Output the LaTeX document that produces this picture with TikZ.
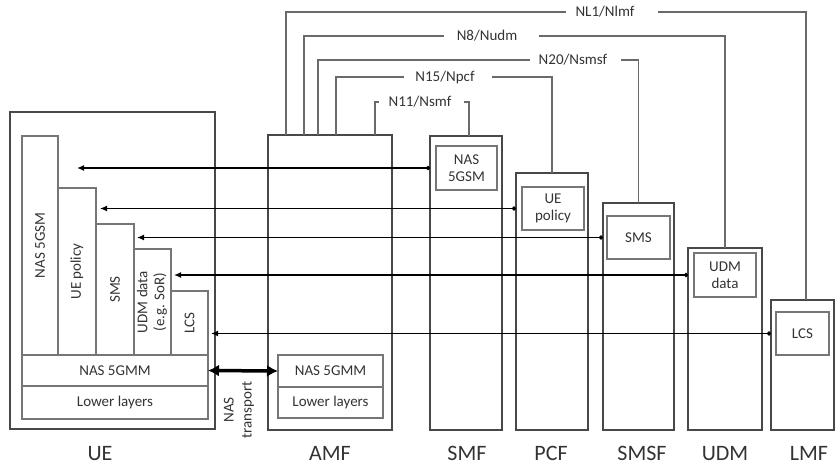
\documentclass[tikz,border=0pt]{standalone}
\usepackage{fontspec}
\setmainfont{Carlito}
\usetikzlibrary{arrows.meta}
\definecolor{boxc}{HTML}{484848}
\definecolor{inc}{HTML}{767676}
\definecolor{ifc}{HTML}{6A6A6A}
\definecolor{txt}{HTML}{333333}
\begin{document}
\begin{tikzpicture}[x=1pt,y=-1pt,
  nf/.style={draw=boxc,line width=1.7pt,inner sep=0pt,outer sep=0pt,anchor=north west},
  col/.style={draw=inc,line width=1.2pt,inner sep=0pt,outer sep=0pt,anchor=north west,
              text=txt,font=\fontsize{15}{17}\selectfont,align=center},
  ifl/.style={draw=ifc,line width=1.3pt},
  iflab/.style={text=txt,font=\fontsize{15}{18}\selectfont,inner sep=0pt},
  sig/.style={draw=black,line width=1.5pt,{Latex[length=7pt,width=6pt]}-{Circle[length=4pt]}},
  ntr/.style={draw=black,line width=3.5pt,{Latex[length=11pt,width=12pt]}-{Latex[length=11pt,width=12pt]}},
  nflab/.style={text=txt,font=\fontsize{22}{26}\selectfont,anchor=base,inner sep=0pt}
]
\useasboundingbox (0,0) rectangle (835,467);

% UE
\node[nf,minimum width=205pt,minimum height=317pt] (ue) at (10,112) {};
\node[col,minimum width=36pt,minimum height=219pt] (gsm) at (22,136) {\rotatebox{90}{NAS 5GSM}};
\node[col,minimum width=38pt,minimum height=167pt] (pol) at (58,188) {\rotatebox{90}{UE policy}};
\node[col,minimum width=38pt,minimum height=131pt] (sms) at (96,224) {\rotatebox{90}{SMS}};
\node[col,minimum width=37pt,minimum height=106pt] (udmc) at (134,249) {\rotatebox{90}{\begin{tabular}{@{}c@{}}UDM data\\(e.g. SoR)\end{tabular}}};
\node[col,minimum width=37pt,minimum height=64pt] (lcs) at (171,291) {\rotatebox{90}{LCS}};
\node[col,minimum width=186pt,minimum height=31pt] (gmm) at (22,355) {NAS 5GMM};
\node[col,minimum width=186pt,minimum height=33pt] (low) at (22,386) {Lower layers};

% AMF
\node[nf,minimum width=124pt,minimum height=295pt] (amf) at (268,135) {};
\node[col,minimum width=105pt,minimum height=32pt] (agmm) at (278,355) {NAS 5GMM};
\node[col,minimum width=105pt,minimum height=31pt] (alow) at (278,387) {Lower layers};

% SMF
\node[nf,minimum width=72pt,minimum height=294pt] (smf) at (430,136) {};
\node[col,minimum width=61pt,minimum height=44pt] (smfin) at (436,146) {NAS\\5GSM};
% PCF
\node[nf,minimum width=72pt,minimum height=257pt] (pcf) at (516,173) {};
\node[col,minimum width=62pt,minimum height=43pt] (pcfin) at (522,187) {UE\\policy};
% SMSF
\node[nf,minimum width=71pt,minimum height=227pt] (smsf) at (603,203) {};
\node[col,minimum width=63pt,minimum height=43pt] (smsfin) at (607,216) {SMS};
% UDM
\node[nf,minimum width=74pt,minimum height=182pt] (udm) at (688,248) {};
\node[col,minimum width=62pt,minimum height=44pt] (udmin) at (694,253) {UDM\\data};
% LMF
\node[nf,minimum width=63pt,minimum height=130pt] (lmf) at (771,300) {};
\node[col,minimum width=53pt,minimum height=43pt] (lmfin) at (776,312) {LCS};

% interface labels
\node[iflab] (l1) at (605,12) {NL1/Nlmf};
\node[iflab] (l2) at (487,36) {N8/Nudm};
\node[iflab] (l3) at (573,60) {N20/Nsmsf};
\node[iflab] (l4) at (445,77) {N15/Npcf};
\node[iflab] (l5) at (420,102) {N11/Nsmf};

\draw[ifl] ([xshift=18pt]amf.north west) |- ([xshift=-9pt]l1.west);
\draw[ifl] ([xshift=23pt]l1.east) -| ([xshift=35pt]lmf.north west);
\draw[ifl] ([xshift=36pt]amf.north west) |- ([xshift=-13pt]l2.west);
\draw[ifl] ([xshift=22pt]l2.east) -| (udm.north);
\draw[ifl] ([xshift=50pt]amf.north west) |- ([xshift=-9pt]l3.west);
\draw[ifl] ([xshift=14pt]l3.east) -| (smsf.north);
\draw[ifl] ([xshift=68pt]amf.north west) |- ([xshift=-11pt]l4.west);
\draw[ifl] ([xshift=17pt]l4.east) -| (pcf.north);
\draw[ifl] ([xshift=107pt]amf.north west) |- ([xshift=-9pt]l5.west);
\draw[ifl] ([xshift=12pt]l5.east) -| ([xshift=3pt]smf.north);

% signalling arrows
\draw[sig] ([xshift=19pt]gsm.east |- smfin.west) -- (smf.west |- smfin.west);
\draw[sig] ([xshift=4pt]pol.east |- pcfin.west) -- (pcf.west |- pcfin.west);
\draw[sig] ([xshift=3pt]sms.east |- smsfin.west) -- (smsf.west |- smsfin.west);
\draw[sig] ([xshift=3pt]udmc.east |- udmin.west) -- (udm.west |- udmin.west);
\draw[sig] ([xshift=3pt]lcs.east |- lmfin.west) -- (lmf.west |- lmfin.west);

% NAS transport
\draw[ntr] (gmm.east) -- (agmm.west);
\node[text=txt,font=\fontsize{15}{18}\selectfont,align=center,rotate=90,inner sep=0pt] (ntl) at (239,410) {NAS\\transport};

% NF labels
\node[nflab] (tue) at (100,460) {UE};
\node[nflab] (tamf) at (330,460) {AMF};
\node[nflab] (tsmf) at (467,460) {SMF};
\node[nflab] (tpcf) at (551,460) {PCF};
\node[nflab] (tsmsf) at (642,460) {SMSF};
\node[nflab] (tudm) at (725,460) {UDM};
\node[nflab] (tlmf) at (809,460) {LMF};
\end{tikzpicture}
\end{document}
